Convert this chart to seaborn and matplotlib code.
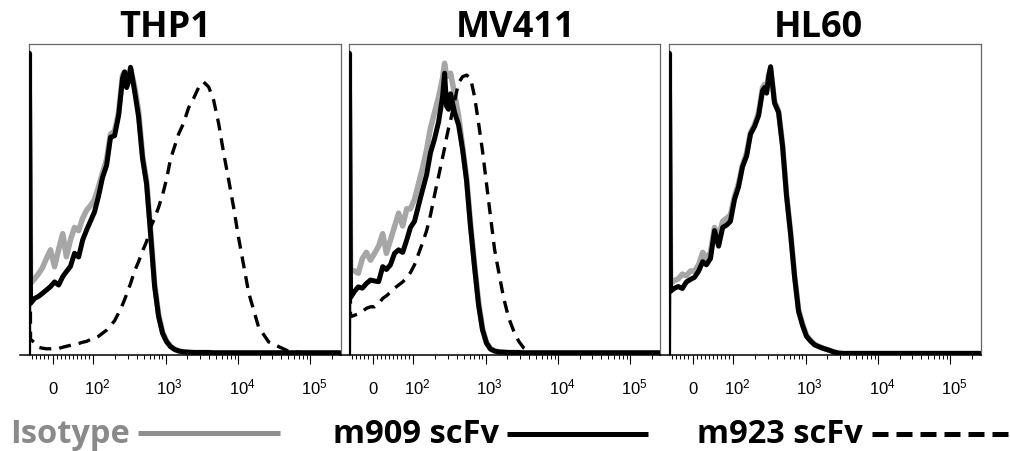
import matplotlib
matplotlib.use("Agg")
import matplotlib.pyplot as plt
import matplotlib.transforms as mtransforms
from matplotlib.lines import Line2D
import seaborn as sns

# ---------------- data ----------------
panels = ["THP1", "MV411", "HL60"]
series = ["Isotype", "m909 scFv", "m923 scFv"]

# fluorescence channel values (logicle-like axis)
fluor = [-59, -57, -54, -44, -35, -25, -15, -5,
         5, 15, 25, 34, 44, 54, 64, 74, 84, 93,
         104, 118, 134, 153, 173, 197, 224, 254, 271, 289, 308, 328,
         372, 423, 481, 546, 620, 705, 800, 908, 1030, 1170, 1330, 1510,
         1770, 2080, 2440, 2860, 3350, 3940, 4610, 5410, 6340, 7430, 8710, 10200,
         14100, 19300, 26600, 50200, 95000, 180000, 255000]

# counts (% of axis height)
thp1_iso = [0, 97, 23, 24.5, 26, 28, 31, 33.8,
            28.4, 34, 39, 31.6, 37, 41, 40, 44, 46.6, 48,
            50, 54, 58.5, 63, 71, 72, 78, 90, 91, 87, 89, 92,
            86.5, 78.5, 64, 56, 40, 23, 13, 7.3, 4.5, 2.8, 1.9, 1.3,
            1.0, 0.9, 0.8, 0.8, 0.8, 0.8, 0.7, 0.7, 0.7, 0.7, 0.7, 0.7,
            0.7, 0.7, 0.7, 0.7, 0.7, 0.7, 0.7]
thp1_m909 = [0, 97, 16.6, 18.2, 18.8, 19.8, 20.9, 22.0,
             23.5, 22.5, 25.2, 26.8, 28.5, 32.7, 31.5, 37, 40.3, 43,
             46, 51, 57, 61, 70, 70.5, 77, 89, 91, 86, 88, 92.5,
             85, 76.6, 63, 55, 39, 22, 12.4, 7, 4.3, 2.7, 1.8, 1.3,
             1.0, 0.9, 0.8, 0.8, 0.8, 0.8, 0.7, 0.7, 0.7, 0.7, 0.7, 0.7,
             0.7, 0.7, 0.7, 0.7, 0.7, 0.7, 0.7]
thp1_m923 = [0, 97, 5, 4, 2.5, 2.2, 2, 2,
             2.1, 2.1, 2.5, 2.8, 3.1, 3.4, 3.7, 4.1, 4.4, 5,
             5.5, 6, 7, 8, 9.4, 11, 13.5, 16.2, 17.8, 19.5, 21.3, 23,
             27, 30, 33.5, 36.5, 41, 44, 47.5, 51.5, 56.5, 63, 67, 71,
             74.5, 79.5, 82.5, 86, 87.8, 86.2, 82, 74.5, 65, 56.5, 47.5, 37.8,
             20, 9, 4.2, 1.2, 0.5, 0.3, 0.2]

mv411_iso = [0, 97, 27.3, 27, 26.3, 31, 33, 30.5,
             32.7, 35, 39, 32.7, 37, 41.3, 45.6, 41.5, 47, 47,
             50, 55, 60, 66, 73, 78, 83, 89, 93.8, 89.5, 90, 90.6,
             84, 77, 67, 57, 42, 29, 17, 8.5, 4, 2, 1.3, 1.0,
             0.9, 0.8, 0.8, 0.8, 0.7, 0.7, 0.7, 0.7, 0.7, 0.7, 0.7, 0.7,
             0.7, 0.7, 0.7, 0.7, 0.7, 0.7, 0.7]
mv411_m909 = [0, 97, 18.5, 20.5, 21.9, 21.5, 23, 24.1,
              23.8, 23.6, 28.4, 27.5, 29, 32.7, 33.8, 33, 37, 41,
              43, 48, 53, 58, 65, 69.5, 75, 83, 90.6, 80, 79, 84,
              78, 74, 66, 56, 41, 28, 16, 8, 3.8, 1.9, 1.3, 1.0,
              0.9, 0.8, 0.8, 0.8, 0.7, 0.7, 0.7, 0.7, 0.7, 0.7, 0.7, 0.7,
              0.7, 0.7, 0.7, 0.7, 0.7, 0.7, 0.7]
mv411_m923 = [0, 97, 12.3, 12.8, 13.2, 14, 15, 15.5,
              15.5, 16.5, 18.2, 19, 20.2, 21.5, 22.5, 23.5, 24.8, 26.5,
              29, 32.5, 36, 40, 45, 51.5, 57.5, 63.5, 66.5, 70, 73, 75.5,
              81.5, 87.5, 89.5, 90, 89, 83, 74.5, 65.5, 55, 44.5, 34, 27,
              18.5, 12, 7.8, 4.5, 2.3, 1.2, 0.6, 0.4, 0.3, 0.2, 0.2, 0.2,
              0.1, 0.1, 0, 0, 0, 0, 0]

hl60_iso = [0, 97, 23, 24, 24.5, 26, 25.5, 27,
            27, 29, 33, 31, 33, 41, 38, 43, 44, 45,
            51, 55, 61, 65, 71.5, 74, 78, 86, 87, 85, 90, 92,
            81.5, 78.5, 67.5, 51.5, 39.5, 25.5, 14.5, 10, 6.3, 4.7, 3.4, 2.8,
            2.1, 1.6, 1.0, 0.6, 0.5, 0.5, 0.5, 0.5, 0.5, 0.5, 0.5, 0.5,
            0.5, 0.5, 0.5, 0.5, 0.5, 0.5, 0.5]
hl60_m909 = [0, 97, 20.5, 21.5, 22, 21.4, 23.5, 24.3,
             25, 27, 30, 29, 31, 40, 35, 41, 41.8, 43,
             50, 54, 60.5, 64, 71, 73.5, 77, 85, 86, 84.2, 89.5, 92.7,
             81, 78, 67, 51, 39, 25, 14, 9.5, 6, 4.5, 3.3, 2.7,
             2.1, 1.6, 1.0, 0.6, 0.5, 0.5, 0.5, 0.5, 0.5, 0.5, 0.5, 0.5,
             0.5, 0.5, 0.5, 0.5, 0.5, 0.5, 0.5]
hl60_m923 = None  # not shown for HL60

major_ticks = [0, 1e2, 1e3, 1e4, 1e5]
major_labels = ["0", "$10^{2}$", "$10^{3}$", "$10^{4}$", "$10^{5}$"]
minor_ticks = ([-50, -40, -30, -20, -10, 10, 20, 30, 40, 50, 60, 70, 80, 90]
               + [m * 10 ** k for k in (2, 3, 4) for m in range(2, 10)] + [2e5])

# ---------------- style ----------------
sns.set_theme(style="white")
plt.rcParams["font.family"] = ["Open Sans", "DejaVu Sans"]
plt.rcParams["mathtext.fontset"] = "custom"
plt.rcParams["mathtext.rm"] = "Liberation Sans"
plt.rcParams["mathtext.it"] = "Liberation Sans:italic"
plt.rcParams["mathtext.bf"] = "Liberation Sans:bold"

GRAY_LINE = "#a6a6a6"
GRAY_TEXT = "#8a8a8a"

W, H = 1010, 451
fig = plt.figure(figsize=(W / 100, H / 100), dpi=100)

data = [
    (thp1_iso, thp1_m909, thp1_m923),
    (mv411_iso, mv411_m909, mv411_m923),
    (hl60_iso, hl60_m909, hl60_m923),
]
lefts = [28.5, 348.5, 668.5]
title_x = [165, 516, 818]
ax_w, ax_h = 312, 311
ax_bottom = 355

for i, (name, (iso, m909, m923)) in enumerate(zip(panels, data)):
    ax = fig.add_axes([lefts[i] / W, (H - ax_bottom) / H, ax_w / W, ax_h / H])
    sns.lineplot(x=fluor, y=iso, ax=ax, color=GRAY_LINE, linewidth=4.0,
                 estimator=None, sort=False, legend=False, zorder=2)
    sns.lineplot(x=fluor, y=m909, ax=ax, color="black", linewidth=3.6,
                 estimator=None, sort=False, legend=False, zorder=3)
    if m923 is not None:
        sns.lineplot(x=fluor, y=m923, ax=ax, color="black", linewidth=2.4,
                     linestyle=(0, (3.6, 2.4)), estimator=None, sort=False,
                     legend=False, zorder=4)
    ax.set_xscale("symlog", linthresh=100, linscale=0.507)
    ax.set_xlim(-59, 262144)
    ax.set_ylim(0, 100)
    ax.set_xlabel("")
    ax.set_ylabel("")
    ax.set_yticks([])
    ax.set_xticks(major_ticks)
    ax.set_xticks(minor_ticks, minor=True)
    ax.tick_params(axis="x", which="major", direction="out", length=6.5,
                   width=0.8, color="black", labelbottom=False, bottom=True)
    ax.tick_params(axis="x", which="minor", direction="out", length=3,
                   width=0.7, color="black", bottom=True)
    for s in ("top", "left", "right"):
        ax.spines[s].set_color("#666666")
        ax.spines[s].set_linewidth(0.9)
    ax.spines["bottom"].set_color("black")
    ax.spines["bottom"].set_linewidth(1.1)
    ax.spines["bottom"].set_bounds(-79, 262144)

    trans = ax.get_xaxis_transform()
    for v, lab in zip(major_ticks, major_labels):
        tt = trans if v == 0 else mtransforms.offset_copy(trans, fig=fig, x=4, y=0, units="dots")
        ax.text(v, -(394 - ax_bottom) / ax_h, lab, transform=tt, ha="center",
                va="baseline", fontsize=12, family="Liberation Sans", color="black")

    fig.text(title_x[i] / W, 1 - 37 / H, name, ha="center", va="baseline",
             fontsize=26, fontweight="bold", color="black")

# ---------------- legend row ----------------
leg_base = 1 - 443 / H
fig.text(10 / W, leg_base, series[0], ha="left", va="baseline", fontsize=23.5,
         fontweight="bold", color=GRAY_TEXT)
fig.add_artist(Line2D([138 / W, 280 / W], [1 - 432.5 / H] * 2, transform=fig.transFigure,
                      color="#8f8f8f", linewidth=3.6, solid_capstyle="butt"))
fig.text(333 / W, leg_base, series[1], ha="left", va="baseline", fontsize=23.5,
         fontweight="bold", color="black")
fig.add_artist(Line2D([507 / W, 648 / W], [1 - 433.5 / H] * 2, transform=fig.transFigure,
                      color="black", linewidth=3.6, solid_capstyle="butt"))
fig.text(697 / W, leg_base, series[2], ha="left", va="baseline", fontsize=23.5,
         fontweight="bold", color="black")
fig.add_artist(Line2D([872 / W, 1012 / W], [1 - 433.5 / H] * 2, transform=fig.transFigure,
                      color="black", linewidth=3.6, linestyle=(0, (3.2, 1.6)),
                      dash_capstyle="butt"))

fig.savefig("out.png", dpi=100)
